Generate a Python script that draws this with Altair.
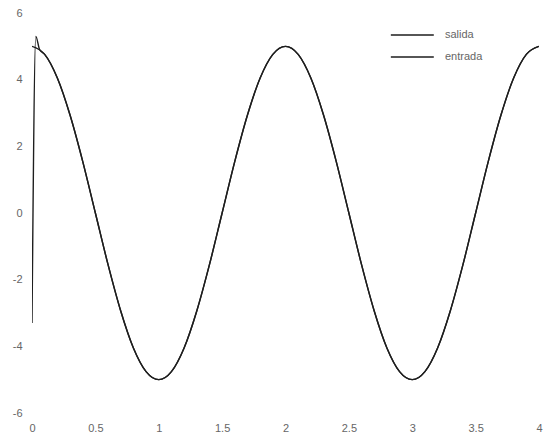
import altair as alt
import pandas as pd

# time samples (s) and values
t_entrada = [0.0, 0.1, 0.2, 0.3, 0.4, 0.5, 0.6, 0.7, 0.8, 0.9,
             1.0, 1.1, 1.2, 1.3, 1.4, 1.5, 1.6, 1.7, 1.8, 1.9,
             2.0, 2.1, 2.2, 2.3, 2.4, 2.5, 2.6, 2.7, 2.8, 2.9,
             3.0, 3.1, 3.2, 3.3, 3.4, 3.5, 3.6, 3.7, 3.8, 3.9, 4.0]
y_entrada = [5.0, 4.76, 4.05, 2.94, 1.55, 0.0, -1.55, -2.94, -4.05, -4.76,
             -5.0, -4.76, -4.05, -2.94, -1.55, 0.0, 1.55, 2.94, 4.05, 4.76,
             5.0, 4.76, 4.05, 2.94, 1.55, 0.0, -1.55, -2.94, -4.05, -4.76,
             -5.0, -4.76, -4.05, -2.94, -1.55, 0.0, 1.55, 2.94, 4.05, 4.76, 5.0]

t_salida = [0.0, 0.03, 0.06, 0.1, 0.2, 0.3, 0.4, 0.5, 0.6, 0.7, 0.8, 0.9,
            1.0, 1.1, 1.2, 1.3, 1.4, 1.5, 1.6, 1.7, 1.8, 1.9,
            2.0, 2.1, 2.2, 2.3, 2.4, 2.5, 2.6, 2.7, 2.8, 2.9,
            3.0, 3.1, 3.2, 3.3, 3.4, 3.5, 3.6, 3.7, 3.8, 3.9, 4.0]
y_salida = [-3.3, 5.3, 4.9, 4.76, 4.05, 2.94, 1.55, 0.0, -1.55, -2.94, -4.05, -4.76,
            -5.0, -4.76, -4.05, -2.94, -1.55, 0.0, 1.55, 2.94, 4.05, 4.76,
            5.0, 4.76, 4.05, 2.94, 1.55, 0.0, -1.55, -2.94, -4.05, -4.76,
            -5.0, -4.76, -4.05, -2.94, -1.55, 0.0, 1.55, 2.94, 4.05, 4.76, 5.0]

series = ["salida", "entrada"]
x_ticks = [0, 0.5, 1, 1.5, 2, 2.5, 3, 3.5, 4]
y_ticks = [-6, -4, -2, 0, 2, 4, 6]

df = pd.concat([
    pd.DataFrame({"t": t_salida, "y": y_salida, "serie": series[0]}),
    pd.DataFrame({"t": t_entrada, "y": y_entrada, "serie": series[1]}),
])

FONT = "Liberation Sans"
GRAY = "#666666"

chart = alt.Chart(df).mark_line(
    strokeWidth=1.4, interpolate="monotone", clip=True
).encode(
    x=alt.X("t:Q", scale=alt.Scale(domain=[0, 4], nice=False, zero=False),
            axis=alt.Axis(values=x_ticks, title=None, domain=False, ticks=False,
                          grid=False, labelExpr="'' + datum.value",
                          labelFlush=False, labelOverlap=False, labelPadding=9)),
    y=alt.Y("y:Q", scale=alt.Scale(domain=[-6, 6], nice=False, zero=False),
            axis=alt.Axis(values=y_ticks, title=None, domain=False, ticks=False,
                          grid=False, labelExpr="'' + datum.value",
                          labelFlush=False, labelOverlap=False, labelPadding=10)),
    color=alt.Color("serie:N",
                    scale=alt.Scale(domain=series, range=["#1e1e1e", "#1e1e1e"]),
                    legend=alt.Legend(title=None, orient="none", legendX=358, legendY=14,
                                      symbolType="M-1,0H5", symbolSize=205,
                                      symbolStrokeWidth=1.4, labelOffset=39,
                                      rowPadding=9, padding=0,
                                      labelFont=FONT, labelFontSize=11,
                                      labelColor=GRAY)),
    detail="serie:N",
).properties(
    width=507, height=400,
    autosize=alt.AutoSizeParams(type="none"),
    padding={"left": 24, "top": 5, "right": 4, "bottom": 20},
).configure_view(
    stroke=None
).configure_axis(
    labelFont=FONT, labelFontSize=11, labelColor=GRAY
)

chart.save("out.html", embed_options={"renderer": "svg", "actions": False})
